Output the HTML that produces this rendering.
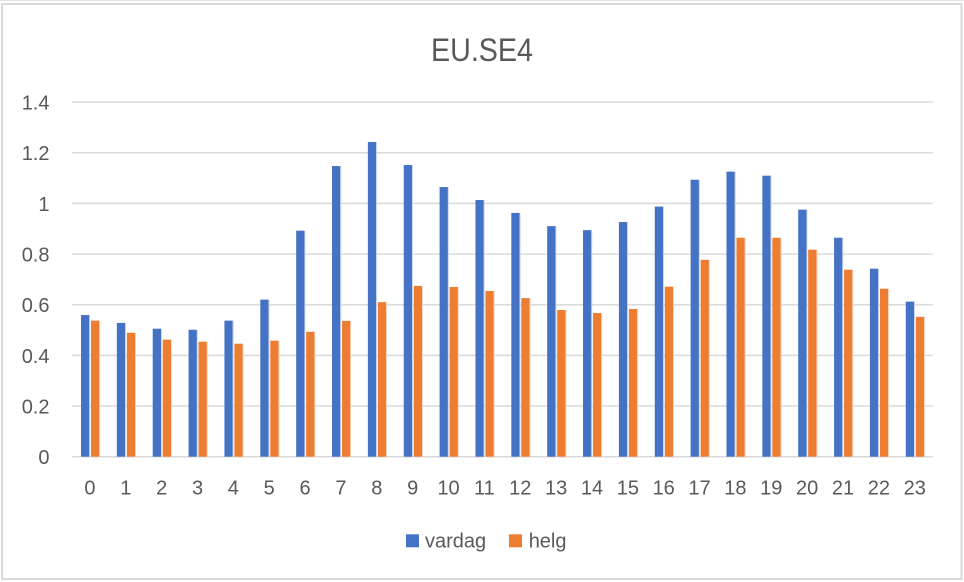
<!DOCTYPE html>
<html>
<head>
<meta charset="utf-8">
<style>
html,body{margin:0;padding:0;background:#fff;}
svg{display:block;}
text{font-family:"Liberation Sans",sans-serif;fill:#595959;}
</style>
</head>
<body>
<svg width="964" height="582" viewBox="0 0 964 582" xmlns="http://www.w3.org/2000/svg">
<rect x="0" y="0" width="964" height="582" fill="#fff"/>
<line x1="0" y1="0.5" x2="964" y2="0.5" stroke="#e3e3e3" stroke-width="1"/>
<rect x="2" y="4" width="959.5" height="575" fill="#fff" stroke="#d9d9d9" stroke-width="2"/>
<text x="482" y="61" font-size="32" text-anchor="middle" textLength="102" lengthAdjust="spacingAndGlyphs">EU.SE4</text>
<g stroke="#d9d9d9" stroke-width="1.5">
<line x1="72" y1="102" x2="932.7" y2="102"/>
<line x1="72" y1="152.7" x2="932.7" y2="152.7"/>
<line x1="72" y1="203.4" x2="932.7" y2="203.4"/>
<line x1="72" y1="254.1" x2="932.7" y2="254.1"/>
<line x1="72" y1="304.7" x2="932.7" y2="304.7"/>
<line x1="72" y1="355.4" x2="932.7" y2="355.4"/>
<line x1="72" y1="406" x2="932.7" y2="406"/>
<line x1="72" y1="456.7" x2="932.7" y2="456.7"/>
</g>
<g font-size="20" text-anchor="end">
<text x="49.5" y="109.5">1.4</text>
<text x="49.5" y="160.2">1.2</text>
<text x="49.5" y="210.9">1</text>
<text x="49.5" y="261.6">0.8</text>
<text x="49.5" y="312.2">0.6</text>
<text x="49.5" y="362.9">0.4</text>
<text x="49.5" y="413.5">0.2</text>
<text x="49.5" y="464.2">0</text>
</g>
<g id="bars"></g>
<g id="xl" font-size="20" text-anchor="middle"></g>
<rect x="406" y="534.3" width="13" height="13" fill="#4472C4"/>
<text x="425" y="547.7" font-size="20">vardag</text>
<rect x="509" y="534.3" width="13" height="13" fill="#ED7D31"/>
<text x="528.7" y="547.7" font-size="20">helg</text>
<script>
var blue=[0.559,0.528,0.505,0.501,0.537,0.620,0.892,1.147,1.242,1.151,1.064,1.013,0.962,0.910,0.894,0.926,0.987,1.093,1.125,1.109,0.975,0.864,0.742,0.612];
var orng=[0.537,0.489,0.462,0.454,0.446,0.458,0.493,0.536,0.610,0.674,0.670,0.654,0.626,0.579,0.567,0.583,0.671,0.777,0.864,0.864,0.817,0.738,0.663,0.552];
var y0=456.7,s=253.4,x0=72,w=35.86,ns="http://www.w3.org/2000/svg";
var g=document.getElementById("bars"),xl=document.getElementById("xl");
function r(x,y,wd,h,c){var e=document.createElementNS(ns,"rect");e.setAttribute("x",x);e.setAttribute("y",y);e.setAttribute("width",wd);e.setAttribute("height",h);e.setAttribute("fill",c);g.appendChild(e);}
for(var i=0;i<24;i++){
 var bx=x0+i*w+9.0;
 var hb=blue[i]*s, ho=orng[i]*s;
 r(bx,y0-hb,8.3,hb,"#4472C4");
 r(bx+8.3,y0-hb,0.9,hb,"#c9d6ef");
 r(bx+10,y0-ho,8.3,ho,"#ED7D31");
 r(bx+18.3,y0-ho,0.9,ho,"#f8d6c1");
 var t=document.createElementNS(ns,"text");t.setAttribute("x",x0+(i+0.5)*w);t.setAttribute("y",494.5);t.textContent=i;xl.appendChild(t);
}
</script>
</svg>
</body>
</html>
